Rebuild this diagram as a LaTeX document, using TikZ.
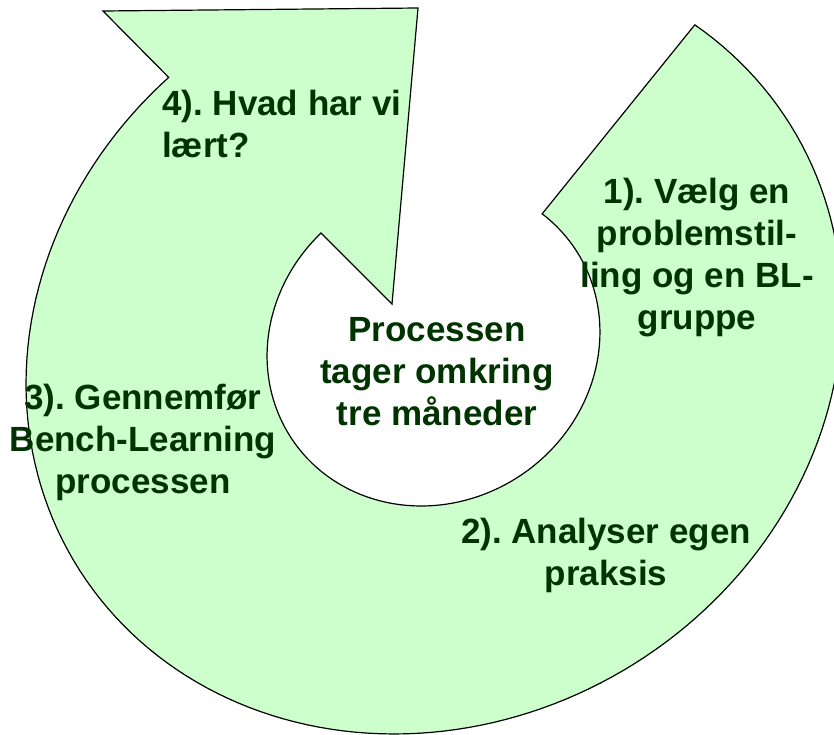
\documentclass[tikz,border=0pt]{standalone}
\usepackage{fontspec}
\setmainfont{Liberation Sans}
\definecolor{bandfill}{HTML}{CCFFCC}
\definecolor{labelgreen}{HTML}{003300}
\begin{document}
\begin{tikzpicture}[x=1pt,y=-1pt,
  lbl/.style={text=labelgreen, font=\fontsize{35}{42}\selectfont\bfseries\frenchspacing, inner sep=0pt, align=center},
  band/.style={fill=bandfill, draw=black, line width=1.2pt, line join=miter}]
\useasboundingbox (0,0) rectangle (834,734);
\begin{scope}
\clip (0,0) rectangle (834,734);
% outer edge: tilted ellipse, from the tail round the right, bottom and left to the arrowhead
% inner edge: tilted ellipse, from the arrowhead notch round the hole back to the tail
\filldraw[band]
  plot[domain=-21.6:258.1, samples=160, variable=\t]
    ({434 + 358.0*cos(\t) + 195.7*sin(\t)}, {346 - 218.5*cos(\t) + 320.6*sin(\t)})
  -- (103,11) -- (418,8) -- (392,304)
  -- plot[domain=0:1, samples=120, variable=\s]
    ({433.5 + 139.9*cos(260.3-277.1*\s) + 90.2*sin(260.3-277.1*\s)},
     {344 - 97.6*cos(260.3-277.1*\s) + 129.3*sin(260.3-277.1*\s)})
  -- cycle;
\end{scope}
\node[lbl, align=left, anchor=west] (s4) at (162,124) {4). Hvad har vi\\lært?};
\node[lbl] (s1) at (697,258) {1). Vælg en\\problemstil-\\ling og en BL-\\gruppe};
\node[lbl] (mid) at (437,372) {Processen\\tager omkring\\tre måneder};
\node[lbl] (s3) at (143,442) {3). Gennemfør\\Bench-Learning\\processen};
\node[lbl] (s2) at (606,555) {2). Analyser egen\\praksis};
\end{tikzpicture}
\end{document}
